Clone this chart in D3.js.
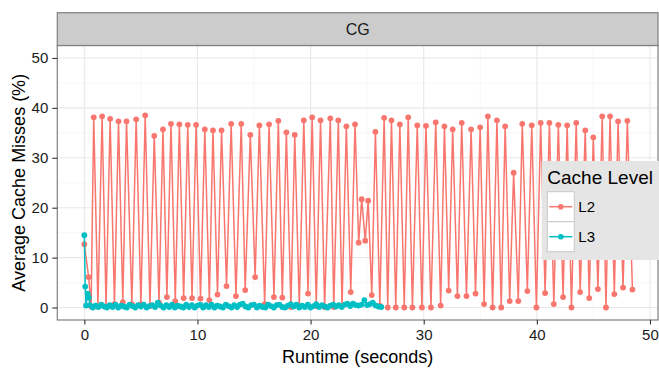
<!DOCTYPE html>
<html>
<head>
<meta charset="utf-8">
<script src="https://cdn.jsdelivr.net/npm/d3@7"></script>
<style>
  body { margin: 0; background: #fff; }
  text { font-family: "Liberation Sans", Arial, sans-serif; }
</style>
</head>
<body>
<div id="chart"></div>
<script>
// facet + series
const facetLabel = "CG";
const seriesNames = ["L2", "L3"];
const seriesColors = ["#F8766D", "#00BFC4"];
const xTicks = [0, 10, 20, 30, 40, 50];
const yTicks = [0, 10, 20, 30, 40, 50];

// L2 cache misses (runtime s, %)
const l2Time = [0.0, 0.38, 0.6, 0.83, 1.2, 1.57, 1.92, 2.28, 2.66, 3.02, 3.4, 3.73, 4.2, 4.58, 5.0, 5.38, 5.8, 6.18,
  6.6, 6.95, 7.3, 7.66, 8.04, 8.4, 8.78, 9.14, 9.52, 9.88, 10.27, 10.65, 11.05, 11.37, 11.77, 12.13, 12.57, 12.98,
  13.4, 13.87, 14.22, 14.67, 15.1, 15.47, 15.94, 16.33, 16.76, 17.15, 17.5, 17.86, 18.26, 18.6, 19.0, 19.4, 19.77,
  20.14, 20.5, 20.88, 21.24, 21.74, 22.05, 22.45, 22.78, 23.16, 23.55, 23.93, 24.25, 24.52, 24.83, 25.09, 25.41,
  25.73, 26.12, 26.5, 26.82, 27.15, 27.53, 27.89, 28.28, 28.63, 29.0, 29.43, 29.84, 30.2, 30.64, 31.06, 31.5, 31.83,
  32.21, 32.56, 32.98, 33.36, 33.78, 34.19, 34.58, 34.99, 35.34, 35.67, 36.09, 36.47, 36.85, 37.2, 37.6, 37.95,
  38.36, 38.71, 39.16, 39.55, 39.96, 40.34, 40.73, 41.11, 41.5, 41.9, 42.32, 42.68, 43.06, 43.48, 43.83, 44.28,
  44.63, 44.99, 45.4, 45.78, 46.11, 46.47, 46.85, 47.18, 47.62, 48.0, 48.45];
const l2Value = [12.7, 6.1, 0.2, 38.1, 0.2, 38.3, 0.2, 37.8, 0.7, 37.3, 1.1, 37.3, 0.7, 37.7, 0.7, 38.5, 0.3, 34.4,
  1.0, 35.7, 2.1, 36.8, 1.3, 36.7, 1.9, 36.6, 1.9, 36.6, 1.8, 35.7, 1.5, 35.5, 2.6, 35.5, 4.3, 36.8,
  2.3, 36.8, 3.5, 34.6, 6.1, 36.5, 0.7, 36.7, 2.1, 37.4, 2.0, 35.1, 0.1, 34.6, 0.2, 37.5, 2.8,
  38.1, 0.3, 37.5, 0.1, 37.9, 0.1, 37.5, 0.3, 36.3, 3.1, 36.7, 13.0, 21.7, 13.4, 21.4, 2.5,
  35.2, 0.4, 38.0, 0.0, 37.5, 0.0, 36.7, 0.0, 38.1, 0.0, 36.5, 0.0, 36.4, 0.0, 37.1, 0.4, 36.3,
  3.4, 35.7, 2.3, 37.0, 2.3, 35.7, 2.8, 36.1, 0.7, 38.3, 0.0, 37.5, 0.0, 36.3, 1.3, 27.0,
  1.3, 36.8, 3.3, 36.5, 0.0, 37.0, 2.9, 37.0, 0.7, 36.6, 2.1, 36.5, 0.0, 37.0, 3.1, 35.5,
  1.9, 34.1, 3.7, 38.3, 0.0, 38.3, 2.7, 37.3, 4.0, 37.4, 3.6];

// L3 cache misses (runtime s, %)
const l3Time = [0.0, 0.08, 0.15, 0.3, 0.4,
  0.5, 0.75, 1, 1.25, 1.5, 1.75, 2, 2.25, 2.5, 2.75, 3, 3.25, 3.5, 3.75, 4, 4.25, 4.5, 4.75, 5, 5.25, 5.5, 5.75,
  6, 6.25, 6.5, 6.75, 7, 7.25, 7.5, 7.75, 8, 8.25, 8.5, 8.75, 9, 9.25, 9.5, 9.75, 10, 10.25, 10.5, 10.75, 11,
  11.25, 11.5, 11.75, 12, 12.25, 12.5, 12.75, 13, 13.25, 13.5, 13.75, 14, 14.25, 14.5, 14.75, 15, 15.25, 15.5,
  15.75, 16, 16.25, 16.5, 16.75, 17, 17.25, 17.5, 17.75, 18, 18.25, 18.5, 18.75, 19, 19.25, 19.5, 19.75, 20,
  20.25, 20.5, 20.75, 21, 21.25, 21.5, 21.75, 22, 22.25, 22.5, 22.75, 23, 23.25, 23.5, 23.75, 24, 24.25, 24.5,
  24.75, 25, 25.25, 25.5, 25.75, 26, 26.25];
const l3Value = [14.5, 4.2, 0.4, 2.8, 2.0,
  0.5, 0.0, 0.4, 0.1, 0.6, 0.2, 0.0, 0.5,
  0.1, 0.6, 0.0, 0.4, 0.2, 0.0, 0.6, 0.3,
  0.0, 0.5, 0.2, 0.6, 0.0, 0.3, 0.5, 0.1,
  1.0, 0.4, 0.0, 0.5, 0.1, 0.6, 0.0, 0.4,
  0.2, 0.0, 0.6, 0.1, 0.5, 0.0, 0.4, 0.6,
  0.0, 0.5, 0.1, 0.6, 0.0, 0.4, 0.2, 0.0,
  0.6, 0.3, 0.0, 0.5, 0.1, 0.6, 0.8, 0.2,
  0.0, 0.5, 0.6, 0.0, 0.4, 0.1, 0.0, 0.6,
  0.3, 0.0, 0.5, 0.6, 0.1, 0.0, 0.4, 0.7,
  0.2, 0.6, 0.0, 0.4, 0.1, 0.6, 0.0, 0.3,
  0.7, 0.1, 0.5, 0.2, 0.0, 0.4, 0.6, 0.2,
  0.5, 0.1, 0.6, 0.8, 0.3, 0.8, 0.5, 0.4,
  0.6, 1.5, 0.5, 0.7, 1.0, 0.4, 0.2, 0.1];

const width = 659, height = 369;
const panel = { left: 57.3, right: 658, top: 45.5, bottom: 320 };
const stripTop = 12.7;

const svg = d3.select("#chart").append("svg")
  .attr("width", width)
  .attr("height", height);

const x = d3.scaleLinear().domain([-2.39, 50.71]).range([panel.left, panel.right]);
const y = d3.scaleLinear().domain([-2.5, 52.5]).range([panel.bottom, panel.top]);

// panel background
svg.append("rect")
  .attr("x", panel.left).attr("y", panel.top)
  .attr("width", panel.right - panel.left).attr("height", panel.bottom - panel.top)
  .attr("fill", "#fff");

// minor grid
const xMinor = [5, 15, 25, 35, 45];
const yMinor = [5, 15, 25, 35, 45];
svg.append("g").selectAll("line").data(xMinor).enter().append("line")
  .attr("x1", d => x(d)).attr("x2", d => x(d))
  .attr("y1", panel.top).attr("y2", panel.bottom)
  .attr("stroke", "#f2f2f2").attr("stroke-width", 0.6);
svg.append("g").selectAll("line").data(yMinor).enter().append("line")
  .attr("y1", d => y(d)).attr("y2", d => y(d))
  .attr("x1", panel.left).attr("x2", panel.right)
  .attr("stroke", "#f2f2f2").attr("stroke-width", 0.6);

// major grid
svg.append("g").selectAll("line").data(xTicks).enter().append("line")
  .attr("x1", d => x(d)).attr("x2", d => x(d))
  .attr("y1", panel.top).attr("y2", panel.bottom)
  .attr("stroke", "#e8e8e8").attr("stroke-width", 1.1);
svg.append("g").selectAll("line").data(yTicks).enter().append("line")
  .attr("y1", d => y(d)).attr("y2", d => y(d))
  .attr("x1", panel.left).attr("x2", panel.right)
  .attr("stroke", "#e8e8e8").attr("stroke-width", 1.1);

// series
const series = [
  { name: seriesNames[0], color: seriesColors[0], pts: l2Time.map((t, i) => [t, l2Value[i]]) },
  { name: seriesNames[1], color: seriesColors[1], pts: l3Time.map((t, i) => [t, l3Value[i]]) }
];

const line = d3.line().x(d => x(d[0])).y(d => y(d[1]));

const plot = svg.append("g");
series.forEach(s => {
  plot.append("path")
    .datum(s.pts)
    .attr("d", line)
    .attr("fill", "none")
    .attr("stroke", s.color)
    .attr("stroke-width", 1.5);
  plot.append("g").selectAll("circle").data(s.pts).enter().append("circle")
    .attr("cx", d => x(d[0]))
    .attr("cy", d => y(d[1]))
    .attr("r", 2.9)
    .attr("fill", s.color);
});

// panel border
svg.append("rect")
  .attr("x", panel.left).attr("y", panel.top)
  .attr("width", panel.right - panel.left).attr("height", panel.bottom - panel.top)
  .attr("fill", "none").attr("stroke", "#7f7f7f").attr("stroke-width", 1.2);

// strip
svg.append("rect")
  .attr("x", panel.left).attr("y", stripTop)
  .attr("width", panel.right - panel.left).attr("height", panel.top - stripTop)
  .attr("fill", "#cccccc").attr("stroke", "#7f7f7f").attr("stroke-width", 1.2);
svg.append("text")
  .attr("x", (panel.left + panel.right) / 2)
  .attr("y", (stripTop + panel.top) / 2)
  .attr("dy", "0.36em")
  .attr("text-anchor", "middle")
  .attr("font-size", "16px")
  .attr("fill", "#1a1a1a")
  .text(facetLabel);

// axes
const xAxis = svg.append("g")
  .attr("transform", "translate(0," + panel.bottom + ")")
  .call(d3.axisBottom(x).tickValues(xTicks).tickSize(4.5).tickPadding(5));
const yAxis = svg.append("g")
  .attr("transform", "translate(" + panel.left + ",0)")
  .call(d3.axisLeft(y).tickValues(yTicks).tickSize(5).tickPadding(4));
[xAxis, yAxis].forEach(a => {
  a.select(".domain").remove();
  a.selectAll(".tick line").attr("stroke", "#333").attr("stroke-width", 1.1);
  a.selectAll(".tick text")
    .attr("font-family", "Liberation Sans, Arial, sans-serif")
    .attr("font-size", "15px")
    .attr("fill", "#1a1a1a");
});

svg.append("text")
  .attr("x", (panel.left + panel.right) / 2)
  .attr("y", 363)
  .attr("text-anchor", "middle")
  .attr("font-size", "18px")
  .attr("fill", "#000")
  .text("Runtime (seconds)");

svg.append("text")
  .attr("transform", "translate(25," + (panel.top + panel.bottom) / 2 + ") rotate(-90)")
  .attr("text-anchor", "middle")
  .attr("font-size", "18px")
  .attr("fill", "#000")
  .text("Average Cache Misses (%)");

// legend
const legend = svg.append("g").attr("transform", "translate(541.7,161)");
legend.append("rect")
  .attr("width", 120).attr("height", 99)
  .attr("fill", "#e5e5e5");
legend.append("text")
  .attr("x", 5.6).attr("y", 23)
  .attr("font-size", "19px")
  .attr("fill", "#000")
  .text("Cache Level");
const keys = legend.selectAll(".key").data(series).enter().append("g")
  .attr("class", "key")
  .attr("transform", (d, i) => "translate(5.6," + (30.7 + i * 30) + ")");
keys.append("rect")
  .attr("width", 27).attr("height", 30)
  .attr("fill", "#fff").attr("stroke", "#c8c8c8").attr("stroke-width", 1);
keys.append("line")
  .attr("x1", 2).attr("x2", 25).attr("y1", 15).attr("y2", 15)
  .attr("stroke", d => d.color).attr("stroke-width", 1.5);
keys.append("circle")
  .attr("cx", 13.5).attr("cy", 15).attr("r", 2.8)
  .attr("fill", d => d.color);
keys.append("text")
  .attr("x", 31).attr("y", 15).attr("dy", "0.36em")
  .attr("font-size", "15px")
  .attr("fill", "#000")
  .text(d => d.name);
</script>
</body>
</html>
